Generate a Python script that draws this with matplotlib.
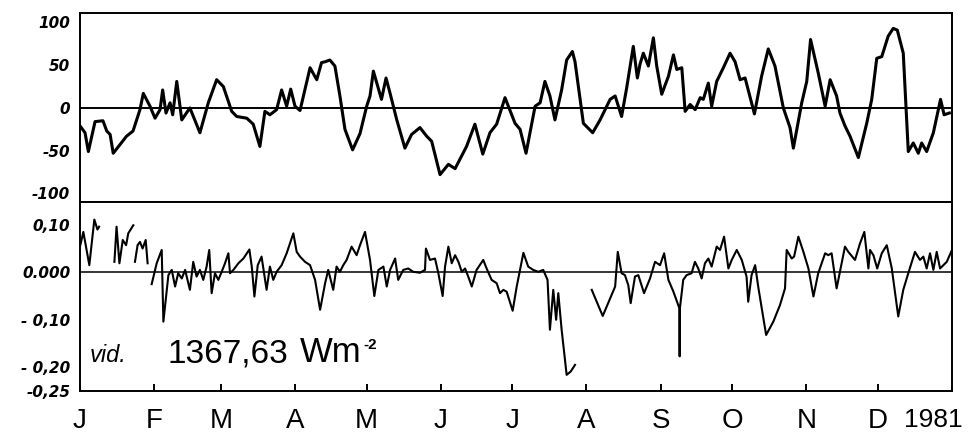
import matplotlib
matplotlib.use("Agg")
import matplotlib.pyplot as plt
import numpy as np

nan = np.nan

# ─── Data (day of year 1981, 0 = 1 Jan) ─────────────────────────────────────

# upper panel: deviation (ppm-like units, -100..100)
top_day = [0, 2.1, 3.5, 6.3, 9.6, 11.2, 12.6, 13.9, 19.5, 22.2,
           25.1, 26.5, 29.3, 31.4, 33.5, 34.6, 36.0, 37.7, 38.8, 40.5,
           42.6, 46.0, 50.2, 53.7, 57.2, 60.0, 63.5, 65.6, 69.8, 72.5,
           75.3, 77.4, 79.5, 82.3, 84.4, 86.5, 88.2, 90.0, 92.1, 96.3,
           99.1, 101.1, 102.6, 104.6, 106.7, 108.8, 110.9, 114.1, 117.2, 120.0,
           121.4, 122.8, 126.2, 128.1, 129.8, 132.6, 136.0, 138.8, 142.3, 145.1,
           147.2, 150.7, 154.2, 157.0, 161.8, 165.3, 168.6, 171.6, 174.4, 177.9,
           182.1, 184.2, 186.7, 190.5, 192.6, 194.6, 196.7, 198.8, 201.6, 203.7,
           206.1, 207.2, 210.7, 214.6, 217.7, 221.9, 224.0, 226.7, 228.8, 231.6,
           233.3, 234.4, 235.8, 237.9, 240.0, 241.4, 243.5, 246.3, 248.4, 249.8,
           251.9, 253.3, 255.4, 257.5, 259.6, 260.9, 263.0, 264.4, 266.5, 269.3,
           272.1, 274.2, 276.3, 278.4, 282.3, 285.3, 288.1, 290.9, 294.4, 297.2,
           298.6, 302.1, 304.2, 305.8, 309.0, 311.9, 314.0, 316.7, 318.1, 320.2,
           322.3, 325.8, 329.3, 331.4, 333.5, 335.6, 338.3, 340.4, 342.1, 344.6,
           346.7, 348.8, 350.9, 352.3, 354.4, 357.2, 360.2, 361.7, 363.9]
top_val = [-21, -29, -51, -16, -15, -27, -31, -53, -33, -27,
           -2, 17, 2, -12, -2, 21, -6, 6, -8, 31,
           -14, 0, -29, 6, 33, 25, -4, -10, -12, -19,
           -45, -4, -8, -2, 21, 2, 22, 2, -3, 47,
           33, 53, 54, 56, 49, 14, -25, -49, -30, 2,
           14, 43, 10, 35, 17, -14, -47, -31, -23, -33,
           -39, -78, -66, -71, -45, -19, -54, -29, -19, 12,
           -18, -25, -53, 2, 6, 31, 14, -14, 21, 56,
           66, 54, -18, -29, -14, 10, 14, -10, 23, 72,
           35, 51, 64, 49, 82, 49, 16, 37, 62, 45,
           47, -4, 4, -2, 12, 10, 29, 2, 31, 47,
           64, 54, 33, 35, -7, 37, 69, 49, 0, -23,
           -47, 6, 31, 80, 41, 2, 33, 14, -6, -21,
           -33, -58, -18, 10, 58, 60, 84, 93, 91, 64,
           -51, -41, -53, -41, -51, -29, 10, -8, -6]

# lower panel: relative deviation, gaps marked with nan
bot_day = [0, 1.4, 3.9, 6.0, 7.3, 8.0, 11.0,
           14.4, 15.3, 16.5, 17.9, 19.3, 20.2, 22.3, 22.6,
           23.0, 24.1, 25.1, 26.2, 27.5, 28.3, 29.0,
           30.0, 32.1, 34.2, 34.9, 37.0, 38.4, 39.8, 41.1, 42.6, 44.0,
           46.0, 47.4, 48.8, 50.2, 51.6, 53.0, 54.1, 55.1, 56.5, 57.9,
           59.3, 60.7, 62.1, 62.8, 64.2, 66.3, 68.4, 70.9, 71.9, 73.0,
           74.4, 76.0, 78.1, 79.5, 80.9, 82.3, 84.4, 86.5, 89.3, 90.7,
           92.1, 94.2, 96.3, 98.4, 100.5, 102.6, 103.9, 106.0, 107.4, 108.8,
           110.2, 111.6, 113.7, 115.8, 117.2, 119.3, 121.4, 123.2, 124.9, 127.0,
           128.4, 129.8, 131.9, 133.2, 135.3, 137.4, 139.5, 142.3, 144.4, 144.8,
           146.5, 148.6, 150.0, 151.8, 152.8, 154.2, 155.6, 157.0, 158.4, 159.8,
           161.2, 162.5, 164.0, 166.0, 168.8, 170.2, 172.3, 174.4, 175.8, 177.2,
           178.6, 181.1, 182.8, 185.6, 187.6, 189.7, 191.8, 193.9, 195.7, 196.7,
           198.1, 199.3, 200.2, 201.6, 203.7, 205.4, 207.2, 210.0,
           214.2, 218.8, 224.0, 225.1, 226.7, 228.1, 229.5, 230.5, 232.3, 233.7,
           236.1, 238.6, 240.7, 242.8, 244.5, 246.3, 248.4, 250.9, 251.0, 251.1,
           252.5, 253.9, 256.0, 257.4, 258.8, 260.2, 261.6, 263.0, 264.4, 266.5,
           267.9, 269.6, 271.4, 272.8, 274.9, 277.0, 279.0, 279.7, 281.1, 282.6,
           284.0, 287.2, 290.2, 293.0, 295.1, 295.8, 297.9, 298.9, 300.7, 302.8,
           304.9, 307.0, 309.0, 311.9, 313.2, 314.6, 316.7, 318.1, 320.2, 321.6,
           324.4, 326.5, 328.3, 330.0, 330.7, 332.1, 333.7, 335.6, 337.7, 339.8,
           342.5, 344.6, 346.7, 349.5, 351.6, 353.0, 354.4, 355.8, 357.2, 358.6,
           360.0, 362.8, 365.0]
bot_val = [0.054, 0.085, 0.015, 0.111, 0.090, 0.096, nan,
           0.022, 0.096, 0.019, 0.068, 0.057, 0.082, 0.099, nan,
           0.022, 0.057, 0.064, 0.050, 0.068, 0.019, nan,
           -0.025, 0.019, 0.047, -0.104, -0.006, 0.005, -0.030, -0.002, -0.013, 0.005,
           -0.037, 0.022, -0.009, 0.005, -0.016, 0.012, 0.047, -0.044, -0.002, -0.016,
           0.001, 0.019, 0.040, -0.002, 0.005, 0.019, 0.029, 0.048, 0.012, -0.051,
           0.015, 0.033, -0.037, 0.012, -0.016, 0.001, 0.015, 0.040, 0.082, 0.043,
           0.033, 0.022, 0.015, -0.016, -0.079, -0.023, 0.005, -0.037, 0.012, 0.001,
           0.015, 0.026, 0.054, 0.036, 0.057, 0.085, 0.026, -0.050, 0.005, 0.012,
           -0.030, 0.005, 0.029, -0.016, 0.005, 0.008, 0.001, -0.001, 0.005, 0.050,
           0.026, 0.029, -0.002, -0.050, 0.012, 0.054, 0.019, 0.036, 0.022, 0.001,
           0.008, -0.009, -0.030, 0.005, 0.026, 0.008, -0.016, -0.023, -0.044, -0.037,
           -0.041, -0.081, -0.030, 0.041, 0.012, 0.005, 0.001, 0.005, -0.016, -0.121,
           -0.037, -0.100, -0.044, -0.121, -0.216, -0.209, -0.195, nan,
           -0.037, -0.092, -0.030, 0.043, -0.002, -0.006, -0.027, -0.065, -0.009, -0.006,
           -0.044, -0.013, 0.022, 0.015, 0.040, -0.016, -0.041, -0.076, -0.177, -0.076,
           -0.016, -0.006, -0.002, 0.022, 0.008, -0.013, 0.019, 0.029, 0.012, 0.054,
           0.047, 0.075, 0.008, 0.026, 0.047, 0.026, -0.009, -0.062, -0.006, 0.015,
           -0.034, -0.132, -0.104, -0.069, -0.034, 0.047, 0.029, 0.033, 0.075, 0.043,
           0.008, -0.051, -0.002, 0.040, 0.036, 0.040, -0.034, 0.001, 0.054, 0.043,
           0.026, 0.061, 0.085, 0.008, 0.047, 0.036, 0.008, 0.040, 0.057, 0.008,
           -0.093, -0.037, -0.002, 0.043, 0.026, 0.033, 0.008, 0.040, 0.005, 0.043,
           0.008, 0.022, 0.047]

month_start = [0, 31, 59, 90, 120, 151, 181, 212, 243, 273, 304, 334]
month_labels = ["J", "F", "M", "A", "M", "J", "J", "A", "S", "O", "N", "D"]

top_ticks = [100, 50, 0, -50, -100]
top_ticklabels = ["100", "50", "0", "-50", "-100"]
bot_ticks = [0.10, 0.0, -0.10, -0.20, -0.25]
bot_ticklabels = ["0,10", "0.000", "- 0,10", "- 0,20", "-0,25"]

# ─── Figure ─────────────────────────────────────────────────────────────────

W, H = 977, 432
fig = plt.figure(figsize=(W / 100, H / 100), dpi=100)
ax1 = fig.add_axes([80 / W, 1 - 202 / H, 872 / W, 189 / H])
ax2 = fig.add_axes([80 / W, 1 - 391 / H, 872 / W, 189 / H])

tick_font = dict(fontsize=11, fontweight="bold", fontstyle="italic")

ax1.plot(top_day, top_val, color="black", linewidth=2.2, solid_joinstyle="round")
ax1.axhline(0, color="black", linewidth=1.4)
ax1.set_xlim(0, 365)
ax1.set_ylim(-110, 111)
ax1.set_xticks([])
ax1.set_yticks(top_ticks, top_ticklabels, **tick_font)
ax1.tick_params(axis="y", length=0, pad=7)

ax2.plot(bot_day, bot_val, color="black", linewidth=1.5, solid_joinstyle="round")
ax2.axhline(0, color="black", linewidth=1.1)
ax2.set_xlim(0, 365)
ax2.set_ylim(-0.25, 0.148)
ax2.set_yticks(bot_ticks, bot_ticklabels, **tick_font)
ax2.tick_params(axis="y", length=0, pad=7)
ax2.set_xticks(month_start, month_labels, fontsize=20, family="Liberation Sans")
ax2.tick_params(axis="x", direction="in", length=5, width=1.4, pad=12)

for ax in (ax1, ax2):
    for sp in ax.spines.values():
        sp.set_linewidth(1.4)

ax2.text(0.979, -0.09, "1981", transform=ax2.transAxes, ha="center", va="top",
         fontsize=19, family="Liberation Sans")

# annotation inside lower panel
ax2.text(0.0115, 0.153, "vid.", transform=ax2.transAxes, ha="left", va="baseline",
         fontsize=17, fontstyle="italic", family="Liberation Sans")
ax2.text(0.0998, 0.153, "1367,63", transform=ax2.transAxes, ha="left", va="baseline",
         fontsize=24, family="Liberation Sans")
ax2.text(0.252, 0.153, "Wm", transform=ax2.transAxes, ha="left", va="baseline",
         fontsize=25, family="Liberation Sans")
ax2.text(0.325, 0.222, "-2", transform=ax2.transAxes, ha="left", va="baseline",
         fontsize=11, fontweight="bold", family="Liberation Sans")

fig.savefig("out.png", dpi=100)
